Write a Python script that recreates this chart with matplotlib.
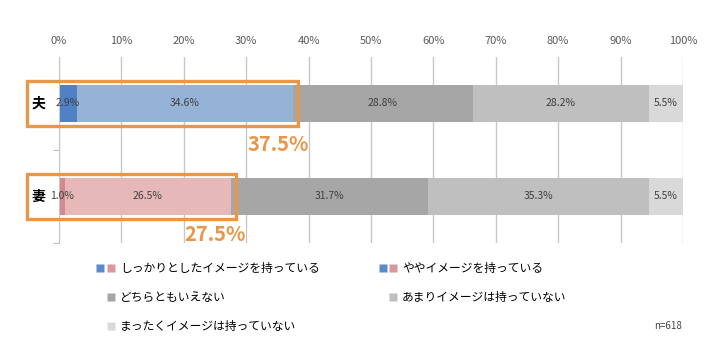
import matplotlib.pyplot as plt
from matplotlib.lines import Line2D
from matplotlib.patches import Rectangle
from matplotlib.legend_handler import HandlerTuple
import numpy as np

plt.rcParams["font.family"] = ["Noto Sans CJK JP", "DejaVu Sans"]

# data
groups = ["夫", "妻"]
categories = [
    "しっかりとしたイメージを持っている",
    "ややイメージを持っている",
    "どちらともいえない",
    "あまりイメージは持っていない",
    "まったくイメージは持っていない",
]
husband = [2.9, 34.6, 28.8, 28.2, 5.5]
wife = [1.0, 26.5, 31.7, 35.3, 5.5]
highlight = ["37.5%", "27.5%"]
n_label = "n=618"

husband_colors = ["#4f81c4", "#95b3d7", "#a6a6a6", "#bfbfbf", "#d9d9d9"]
wife_colors = ["#d48a8d", "#e6b9b8", "#a6a6a6", "#bfbfbf", "#d9d9d9"]
legend_blue = "#5a8bc8"
legend_pink = "#d9999a"
orange = "#e8974a"

fig = plt.figure(figsize=(7.2, 3.6), dpi=100)
ax = fig.add_axes([0.0819, 0.325, 0.8667, 0.5167])

rows = [husband, wife]
row_colors = [husband_colors, wife_colors]
bar_h = 0.39
for i, (vals, cols) in enumerate(zip(rows, row_colors)):
    left = 0
    for v, c in zip(vals, cols):
        ax.barh(i, v, left=left, height=bar_h, color=c, edgecolor="none", zorder=2)
        ax.text(left + v / 2, i, f"{v:.1f}%", ha="center", va="center",
                fontsize=7.5, color="#404040", zorder=3)
        left += v

    # orange highlight box around the first two segments
    top2 = vals[0] + vals[1]
    ax.add_patch(Rectangle((-5.2, i - 0.24), top2 + 0.8 + 5.2, 0.48,
                           fill=False, edgecolor=orange, linewidth=2.4,
                           clip_on=False, zorder=4))
    ax.text(-3.3, i, groups[i], ha="center", va="center", fontsize=10,
            fontweight="bold", color="black")

ax.text(husband[0] + husband[1] - 2.4, 0.44, highlight[0], ha="center", va="center",
        fontsize=14.5, fontweight="bold", color=orange)
ax.text(wife[0] + wife[1] - 2.5, 1.41, highlight[1], ha="center", va="center",
        fontsize=14.5, fontweight="bold", color=orange)

ax.set_xlim(0, 100)
ax.set_ylim(1.5, -0.5)
ax.set_xticks(np.arange(0, 101, 10))
ax.set_xticklabels([f"{t}%" for t in range(0, 101, 10)])
ax.xaxis.tick_top()
ax.tick_params(axis="x", length=0, pad=8, labelsize=8, labelcolor="#595959")
ax.set_yticks([0.5, 1.5])
ax.set_yticklabels([])
ax.tick_params(axis="y", length=4, color="#bfbfbf")
ax.grid(axis="x", color="#c8c8c8", linewidth=1, zorder=0)
for s in ["top", "right", "bottom"]:
    ax.spines[s].set_visible(False)
ax.spines["left"].set_color("#c8c8c8")

def sq(c):
    return Line2D([], [], marker="s", linestyle="none", markersize=6,
                  markerfacecolor=c, markeredgecolor="none")

blank = Line2D([], [], marker="s", linestyle="none", markersize=6,
               markerfacecolor="none", markeredgecolor="none")

h_all = [
    (sq(legend_blue), sq(legend_pink)),
    (sq(legend_blue), sq(legend_pink)),
    (blank, sq(husband_colors[2])),
    (blank, sq(husband_colors[3])),
    (blank, sq(husband_colors[4])),
]
order = [0, 2, 4, 1, 3]
leg = fig.legend([h_all[k] for k in order], [categories[k] for k in order],
                 handler_map={tuple: HandlerTuple(ndivide=None, pad=0.2)},
                 ncol=2, loc="upper left", bbox_to_anchor=(0.127, 0.285),
                 frameon=False, fontsize=8.5, handlelength=1.6, handletextpad=0.4,
                 labelspacing=1.35, columnspacing=5.0, borderaxespad=0)

fig.text(0.928, 0.094, n_label, fontsize=7, color="#404040", ha="center", va="center")

fig.savefig("out.png", dpi=100)
